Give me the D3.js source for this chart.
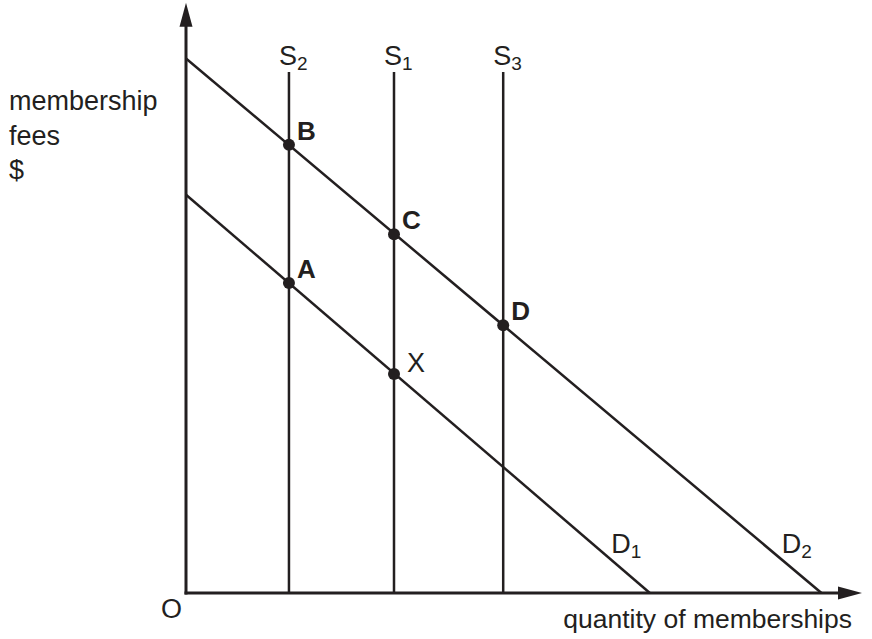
<!DOCTYPE html>
<html>
<head>
<meta charset="utf-8">
<script src="https://cdn.jsdelivr.net/npm/d3@7"></script>
<style>
  html, body { margin: 0; padding: 0; background: #fff; }
  svg { display: block; font-family: "Liberation Sans", Arial, sans-serif; }
</style>
</head>
<body>
<svg id="chart" width="872" height="639"></svg>
<script>
// ---- data (quantity units, price units) ----
const supplyNames = ["S", "S", "S"];
const supplySubs = ["2", "1", "3"];
const supplyQ = [19.8, 40, 61];
const supplyTop = 100.2;

const demandNames = ["D1", "D2"];
const demandPIntercept = [76.6, 102.8];
const demandQIntercept = [89.2, 122.2];
const demandLabelP = 7.7;

const pointLabels = ["B", "C", "D", "A", "X"];
const pointQ = [19.8, 40, 61, 19.8, 40];
const pointP = [86.2, 69.0, 51.5, 59.6, 42.1];
const pointBold = [true, true, true, true, false];

const axisMaxQ = 130;
const axisMaxP = 113.5;

const yAxisLabel = ["membership", "fees", "$"];
const xAxisLabel = "quantity of memberships";
const originLabel = "O";

// ---- scales ----
const svg = d3.select("#chart");
const x = d3.scaleLinear().domain([0, 130]).range([186, 862]);
const y = d3.scaleLinear().domain([0, 112]).range([593, 10.6]);
const ink = "#231f20";

// supply lines
supplyQ.forEach((q, i) => {
  svg.append("line")
    .attr("x1", x(q)).attr("x2", x(q))
    .attr("y1", y(0)).attr("y2", y(supplyTop))
    .attr("stroke", ink).attr("stroke-width", 2.5);
  const t = svg.append("text")
    .attr("x", x(q) - 10).attr("y", y(supplyTop) - 7)
    .attr("font-size", 27).attr("fill", ink);
  t.append("tspan").text(supplyNames[i]);
  t.append("tspan").attr("font-size", 19).attr("dy", 5).text(supplySubs[i]);
});

// demand lines
demandNames.forEach((nm, i) => {
  svg.append("line")
    .attr("x1", x(0)).attr("y1", y(demandPIntercept[i]))
    .attr("x2", x(demandQIntercept[i])).attr("y2", y(0))
    .attr("stroke", ink).attr("stroke-width", 2.5);
  const qL = demandQIntercept[i] * (1 - demandLabelP / demandPIntercept[i]);
  const t = svg.append("text")
    .attr("x", x(qL) + 8).attr("y", y(demandLabelP))
    .attr("font-size", 27).attr("fill", ink);
  t.append("tspan").text(nm[0]);
  t.append("tspan").attr("font-size", 19).attr("dy", 5).text(nm.slice(1));
});

// axes
svg.append("line")
  .attr("x1", x(0)).attr("x2", x(0))
  .attr("y1", y(0) + 1.5).attr("y2", y(axisMaxP) + 20)
  .attr("stroke", ink).attr("stroke-width", 3);
svg.append("line")
  .attr("x1", x(0) - 1.5).attr("x2", x(axisMaxQ) - 20)
  .attr("y1", y(0)).attr("y2", y(0))
  .attr("stroke", ink).attr("stroke-width", 3);
// arrowheads
svg.append("path")
  .attr("d", `M${x(0)},${y(axisMaxP)} L${x(0) - 6.5},${y(axisMaxP) + 24} L${x(0) + 6.5},${y(axisMaxP) + 24} Z`)
  .attr("fill", ink);
svg.append("path")
  .attr("d", `M${x(axisMaxQ)},${y(0)} L${x(axisMaxQ) - 24},${y(0) - 6.5} L${x(axisMaxQ) - 24},${y(0) + 6.5} Z`)
  .attr("fill", ink);

// points
pointQ.forEach((q, i) => {
  svg.append("circle")
    .attr("cx", x(q)).attr("cy", y(pointP[i])).attr("r", 6)
    .attr("fill", ink);
  const bold = pointBold[i];
  svg.append("text")
    .attr("x", x(q) + (bold ? 8 : 13))
    .attr("y", y(pointP[i]) + (bold ? -5 : -2))
    .attr("font-size", bold ? 26 : 27)
    .attr("font-weight", bold ? "bold" : "normal")
    .attr("fill", ink)
    .text(pointLabels[i]);
});

// axis labels
yAxisLabel.forEach((s, i) => {
  svg.append("text")
    .attr("x", 9).attr("y", 110 + i * 34.5)
    .attr("font-size", 27).attr("fill", ink)
    .text(s);
});
svg.append("text")
  .attr("x", 852).attr("y", 628).attr("text-anchor", "end")
  .attr("font-size", 26.5).attr("fill", ink)
  .text(xAxisLabel);
svg.append("text")
  .attr("x", 161).attr("y", 618)
  .attr("font-size", 27).attr("fill", ink)
  .text(originLabel);
</script>
</body>
</html>
